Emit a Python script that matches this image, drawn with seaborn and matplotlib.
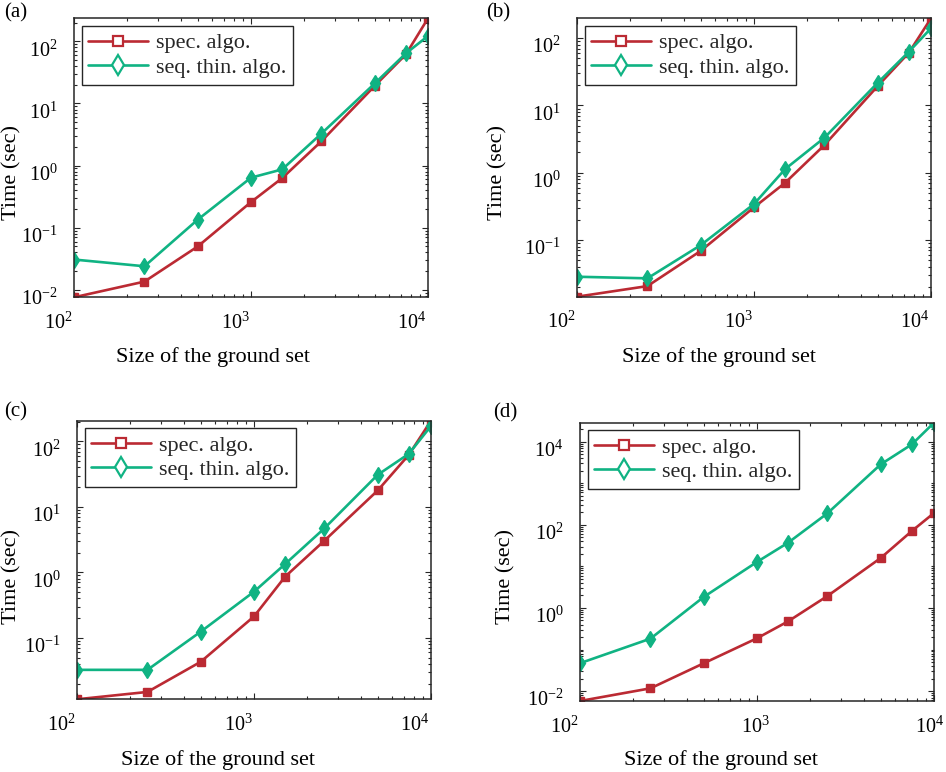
import numpy as np
import pandas as pd
import matplotlib
matplotlib.use("Agg")
import matplotlib.pyplot as plt
import seaborn as sns
from matplotlib.lines import Line2D
from matplotlib.ticker import LogLocator, NullFormatter
from matplotlib.transforms import ScaledTranslation

# ground set sizes (shared by all four panels)
sizes = [100, 250, 500, 1000, 1500, 2500, 5000, 7500, 10000]

# running times in seconds
spec_a = [0.0076, 0.0136, 0.050, 0.259, 0.63, 2.47, 19.2, 61.7, 235]
seq_a = [0.0308, 0.024, 0.135, 0.64, 0.87, 3.28, 21.0, 64, 122]
spec_b = [0.0144, 0.0207, 0.069, 0.306, 0.71, 2.58, 19.4, 60.7, 197]
seq_b = [0.0285, 0.027, 0.084, 0.343, 1.135, 3.31, 21.7, 62.8, 140]
spec_c = [0.0115, 0.0149, 0.043, 0.212, 0.86, 3.05, 17.8, 62.5, 207]
seq_c = [0.0324, 0.0324, 0.124, 0.506, 1.34, 4.71, 30.9, 64.7, 172]
spec_d = [0.0058, 0.0117, 0.0468, 0.187, 0.478, 1.94, 15.9, 71, 192]
seq_d = [0.047, 0.183, 1.84, 12.8, 37.2, 189, 2840, 8600, 28500]

panel_names = ["(a)", "(b)", "(c)", "(d)"]
series_names = ["spec. algo.", "seq. thin. algo."]

RED = "#BB2A33"
GREEN = "#10B383"
DPI = 100
W, H = 946, 772

sns.set_theme(style="white")
plt.rcParams["font.family"] = ["Liberation Serif", "DejaVu Serif"]
plt.rcParams["mathtext.fontset"] = "custom"
plt.rcParams["mathtext.rm"] = "Liberation Serif"
plt.rcParams["mathtext.it"] = "Liberation Serif:italic"
plt.rcParams["axes.unicode_minus"] = True

fig = plt.figure(figsize=(W / DPI, H / DPI), dpi=DPI)
fig.patch.set_facecolor("white")

# pixel boxes (left, top, right, bottom) of each panel
boxes = [(74, 18.3, 428, 297.3), (577, 18.3, 931, 296.7),
         (77, 420.7, 431, 699.3), (580, 422.7, 934, 701)]
letter_pos = [(16, 13), (498, 13), (16, 412), (505, 413)]
xlabel_pos = [(213, 357), (719, 357), (218, 760), (721, 760)]
ylabel_pos = [(12, 173), (498, 172), (12, 576), (506, 576)]
# horizontal shift of x tick labels (px), as in the original export
xtick_shift = [[-16, -16, -16], [-16, -16, -16], [-16, -16, -16], [-16, -2, -4]]

data = [(spec_a, seq_a), (spec_b, seq_b), (spec_c, seq_c), (spec_d, seq_d)]


def shift_text(txt, dx, dy):
    off = ScaledTranslation(dx / DPI, dy / DPI, fig.dpi_scale_trans)
    txt.set_transform(txt.get_transform() + off)


for i, (spec, seq) in enumerate(data):
    l, t, r, b = boxes[i]
    ax = fig.add_axes([l / W, 1 - b / H, (r - l) / W, (b - t) / H])
    df = pd.DataFrame({"size": sizes, "spec": spec, "seq": seq})

    sns.lineplot(data=df, x="size", y="spec", ax=ax, color=RED, lw=1.9,
                 marker="s", markersize=5.5, markeredgecolor=RED,
                 markerfacecolor=RED, markeredgewidth=1)
    sns.lineplot(data=df, x="size", y="seq", ax=ax, color=GREEN, lw=1.9,
                 marker="d", markersize=8, markeredgecolor=GREEN,
                 markerfacecolor=GREEN, markeredgewidth=1)

    ax.set_xscale("log")
    ax.set_yscale("log")
    lo = min(min(spec), min(seq))
    hi = max(max(spec), max(seq))

    ax.set_xticks([1e2, 1e3, 1e4])
    ax.xaxis.set_minor_locator(LogLocator(base=10, subs=np.arange(2, 10), numticks=50))
    ax.xaxis.set_minor_formatter(NullFormatter())
    if i == 3:
        ax.set_yticks([1e-2, 1e0, 1e2, 1e4])
        ax.yaxis.set_minor_locator(LogLocator(base=10, subs=np.arange(1, 10), numticks=100))
    else:
        ax.set_yticks([v for v in [1e-2, 1e-1, 1e0, 1e1, 1e2] if lo <= v <= hi])
        ax.yaxis.set_minor_locator(LogLocator(base=10, subs=np.arange(2, 10), numticks=100))
    ax.yaxis.set_minor_formatter(NullFormatter())
    ax.set_xlim(100, 10000)
    ax.set_ylim(lo, hi)

    ax.tick_params(which="both", direction="in", top=True, right=True,
                   bottom=True, left=True, colors="#262626", width=0.8)
    ax.tick_params(which="major", length=4, labelsize=14.5, labelcolor="black")
    ax.tick_params(which="minor", length=2.2)
    ax.tick_params(axis="x", which="major", pad=11)
    ax.tick_params(axis="y", which="major", pad=12)
    for s in ax.spines.values():
        s.set_color("#262626")
        s.set_linewidth(1.1)

    for lab, dx in zip(ax.get_xticklabels(), xtick_shift[i]):
        shift_text(lab, dx, 0)
    for lab in ax.get_yticklabels():
        shift_text(lab, 0, -7)

    ax.set_xlabel("Size of the ground set", fontsize=16, color="black")
    ax.set_ylabel("Time (sec)", fontsize=16, color="black")
    xl, yl = xlabel_pos[i]
    ax.xaxis.set_label_coords((xl - l) / (r - l), (b - yl) / (b - t))
    ax.xaxis.label.set_verticalalignment("center")
    xl, yl = ylabel_pos[i]
    ax.yaxis.set_label_coords((xl - l) / (r - l), (b - yl) / (b - t))
    ax.yaxis.label.set_verticalalignment("center")

    handles = [
        Line2D([], [], color=RED, lw=1.9, marker="s", markersize=6.5,
               markerfacecolor="white", markeredgecolor=RED, markeredgewidth=1.6),
        Line2D([], [], color=GREEN, lw=1.9, marker="d", markersize=10,
               markerfacecolor="white", markeredgecolor=GREEN, markeredgewidth=1.6),
    ]
    leg = ax.legend(handles, series_names, loc="upper left", fontsize=16,
                    frameon=True, fancybox=False, framealpha=1,
                    edgecolor="#262626", handlelength=2.7, handletextpad=0.32,
                    labelspacing=0.18, borderpad=0.3, borderaxespad=0.35)
    leg.get_frame().set_linewidth(1.0)

    lx, ly = letter_pos[i]
    fig.text(lx / W, 1 - ly / H, panel_names[i], fontsize=15,
             ha="center", va="center", color="black")

fig.savefig("out.png", dpi=DPI, facecolor="white")
